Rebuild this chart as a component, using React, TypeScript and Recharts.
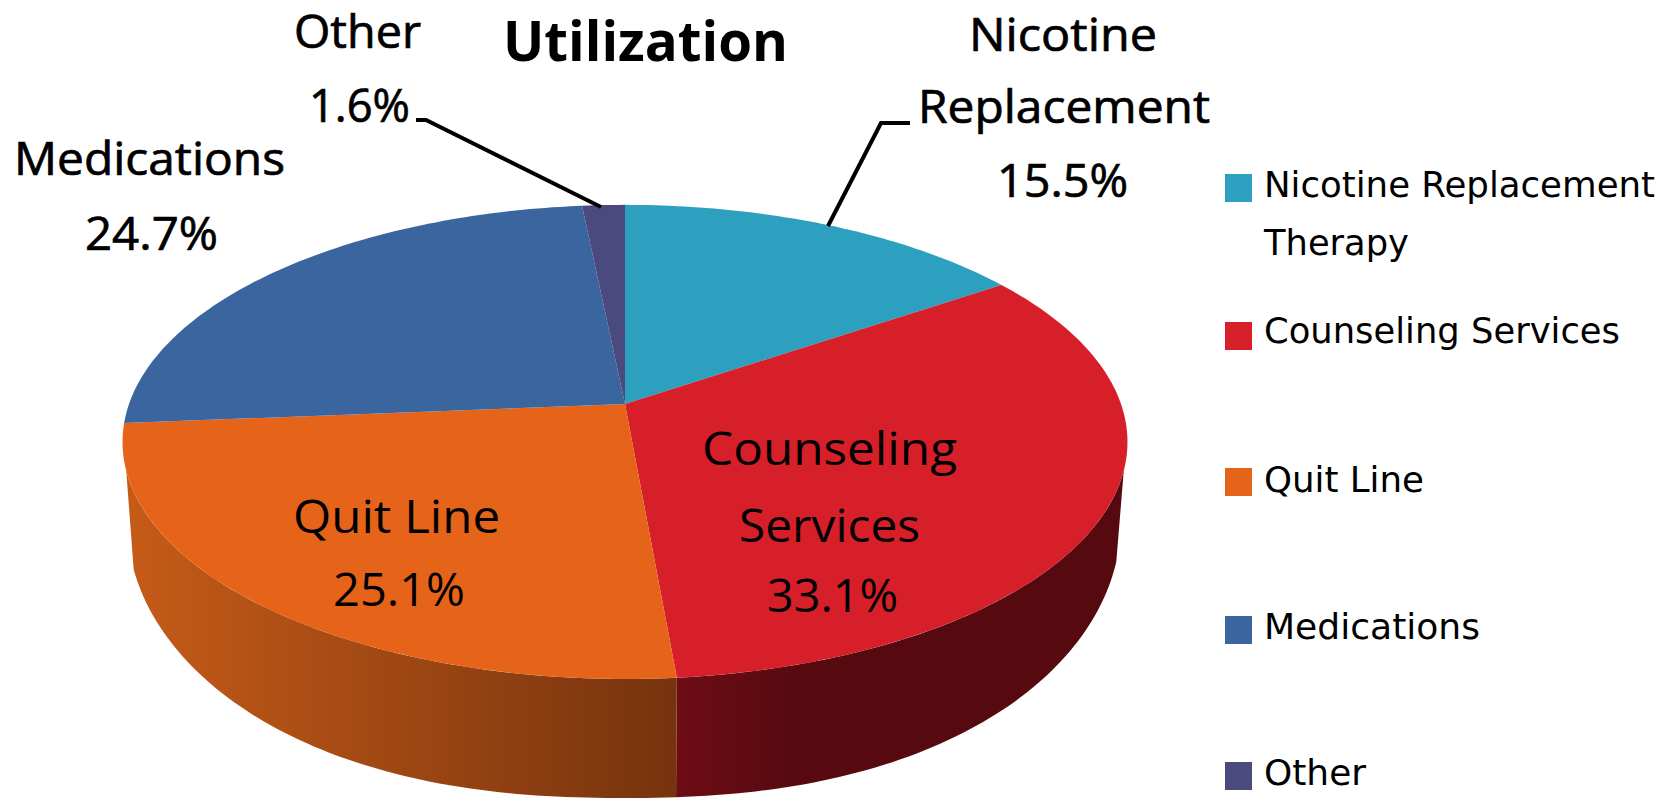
import { Legend, Pie, PieChart } from "recharts";

const categories = ["Nicotine Replacement Therapy", "Counseling Services", "Quit Line", "Medications", "Other"];
const shares = [15.5, 33.1, 25.1, 24.7, 1.6];
const colors = ["#2CA0BE", "#D61F28", "#E6641A", "#3A659E", "#4A4A7E"];
const sliceLabels = [
  ["Nicotine", "Replacement", "15.5%"],
  ["Counseling", "Services", "33.1%"],
  ["Quit Line", "25.1%"],
  ["Medications", "24.7%"],
  ["Other", "1.6%"],
];

const rows = categories.map((name, i) => ({ name, value: shares[i], fill: colors[i] }));

// [left x, text width, baseline y] per label line
const labelLayout = [
  [[969, 188, 51], [918, 292, 123], [997, 131, 197]],
  [[702, 255, 465], [739, 181, 542], [767, 131, 612]],
  [[293, 207, 533], [333, 132, 606]],
  [[14, 271, 175], [85, 133, 250]],
  [[294, 127, 48], [309, 101, 122]],
];
const heavyLabels = [0.7, 0, 0, 0.7, 0.7];
const leaders: Record<number, string> = {
  0: "828,226 881,123 910,123",
  4: "416,120 426,120 601,207",
};

const legendRows = [
  { lines: [[391, 197], [145, 255]], box: 174 },
  { lines: [[356, 343]], box: 322 },
  { lines: [[160, 492]], box: 468 },
  { lines: [[216, 639]], box: 616 },
  { lines: [[102, 785]], box: 762 },
];
const legendText = [["Nicotine Replacement", "Therapy"], ["Counseling Services"], ["Quit Line"], ["Medications"], ["Other"]];

const wallFills: Record<number, [string, string, number, number]> = {
  1: ["#6E0C14", "#560A10", 677, 800],
  2: ["#C65B18", "#76330E", 125, 677],
};

const TILT = 0.16;
const SQUASH = 0.4657;
const WALL_FROM = 106;
const WALL_TO = 254;
const FLOOR = { cx: 624, cy: 521, rx: 497, ry: 277, inset: 0.985, power: 2.3 };
const font = "'Open Sans', sans-serif";

// clock angle (deg) -> point on the tilted top face
function project(cx: number, cy: number, r: number, clock: number) {
  const t = (clock * Math.PI) / 180;
  const u = Math.sin(t);
  const v = -Math.cos(t);
  const w = 1 - TILT * v;
  return [cx + (r * u) / w, cy + (r * SQUASH * v) / w];
}

// point on the lower rim right under a top-face point
function under(x: number) {
  const bx = FLOOR.cx + (x - FLOOR.cx) * FLOOR.inset;
  const dx = Math.min(1, Math.abs(bx - FLOOR.cx) / FLOOR.rx);
  return [bx, FLOOR.cy + FLOOR.ry * Math.pow(1 - Math.pow(dx, FLOOR.power), 0.5)];
}

function arc(cx: number, cy: number, r: number, from: number, to: number) {
  const steps = Math.max(2, Math.ceil(Math.abs(to - from)));
  const pts: number[][] = [];
  for (let i = 0; i <= steps; i++) pts.push(project(cx, cy, r, from + ((to - from) * i) / steps));
  return pts;
}

const path = (pts: number[][]) => "M" + pts.map((p) => p.join(",")).join("L") + "Z";

function Slice3D(props: any) {
  const { cx, cy, outerRadius, startAngle, endAngle, fill, index } = props;
  const from = 90 - startAngle;
  const to = 90 - endAngle;
  const top = arc(cx, cy, outerRadius, from, to);
  const wallStart = Math.max(from, WALL_FROM);
  const wallEnd = Math.min(to, WALL_TO);
  const wall = wallFills[index];
  let wallPath = "";
  if (wall && wallEnd > wallStart) {
    const edge = arc(cx, cy, outerRadius, wallStart, wallEnd);
    wallPath = path([...edge, ...edge.map((p) => under(p[0])).reverse()]);
  }
  return (
    <g>
      {wallPath && (
        <>
          <defs>
            <linearGradient id={`wall-${index}`} gradientUnits="userSpaceOnUse" x1={wall[2]} x2={wall[3]} y1={0} y2={0}>
              <stop offset="0" stopColor={wall[0]} />
              <stop offset="1" stopColor={wall[1]} />
            </linearGradient>
          </defs>
          <path d={wallPath} fill={`url(#wall-${index})`} />
        </>
      )}
      <path d={path([[cx, cy], ...top])} fill={fill} />
    </g>
  );
}

function SliceLabel(props: any) {
  const { index } = props;
  return (
    <g>
      {sliceLabels[index].map((line, i) => {
        const [x, w, y] = labelLayout[index][i];
        return (
          <text
            key={line}
            x={x}
            y={y}
            textLength={w}
            lengthAdjust="spacingAndGlyphs"
            fontFamily={font}
            fontSize={45}
            fill="#000"
            stroke="#000"
            strokeWidth={heavyLabels[index]}
          >
            {line}
          </text>
        );
      })}
      {leaders[index] && <polyline points={leaders[index]} fill="none" stroke="#000" strokeWidth={4} />}
    </g>
  );
}

function LegendBlock({ payload }: any) {
  return (
    <svg width={1669} height={800} style={{ display: "block" }}>
      {(payload || []).map((entry: any, i: number) => (
        <g key={entry.value}>
          <rect x={1225} y={legendRows[i].box} width={27} height={28} fill={entry.color} />
          {legendText[i].map((line, j) => (
            <text
              key={line}
              x={1264}
              y={legendRows[i].lines[j][1]}
              textLength={legendRows[i].lines[j][0]}
              lengthAdjust="spacingAndGlyphs"
              fontFamily="'DejaVu Sans', sans-serif"
              fontSize={36}
              fill="#000"
            >
              {line}
            </text>
          ))}
        </g>
      ))}
    </svg>
  );
}

export default function App() {
  return (
    <div style={{ position: "absolute", left: 0, top: 0, width: 1669, height: 800, background: "#fff", overflow: "hidden" }}>
      <PieChart width={1669} height={800} margin={{ top: 0, right: 0, bottom: 0, left: 0 }}>
        <text x={503} y={61} textLength={285} lengthAdjust="spacingAndGlyphs" fontFamily={font} fontWeight={700} fontSize={55} fill="#000">
          Utilization
        </text>
        <Pie
          data={rows}
          dataKey="value"
          nameKey="name"
          cx={625}
          cy={404}
          outerRadius={496}
          startAngle={90}
          endAngle={-270}
          stroke="none"
          shape={Slice3D}
          label={SliceLabel}
          labelLine={false}
          isAnimationActive={false}
        />
        <Legend
          layout="vertical"
          align="right"
          verticalAlign="top"
          itemSorter={null}
          content={LegendBlock}
          wrapperStyle={{ left: 0, top: 0, right: "auto", bottom: "auto", width: 1669, height: 800, pointerEvents: "none" }}
        />
      </PieChart>
    </div>
  );
}
